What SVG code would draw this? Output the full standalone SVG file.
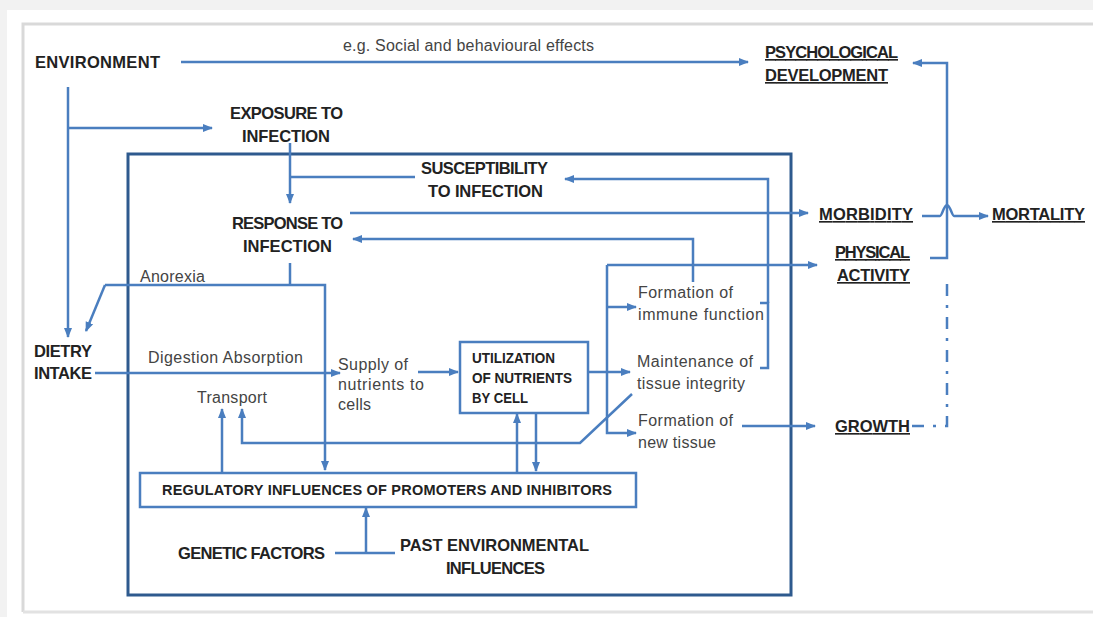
<svg xmlns="http://www.w3.org/2000/svg" width="1093" height="617" viewBox="0 0 1093 617">
<defs>
<marker id="ah" markerUnits="userSpaceOnUse" markerWidth="10" markerHeight="10" viewBox="0 0 10 10" refX="9" refY="5" orient="auto">
<path d="M0,1 L10,5 L0,9 Z" fill="#4a7ebf"/>
</marker>
<style>
.c{fill:none;stroke:#4a7ebf;stroke-width:2.5}
.a{marker-end:url(#ah)}
.b{font-family:"Liberation Sans",Arial,sans-serif;font-weight:bold;font-size:16.5px;fill:#222}
.u{text-decoration:underline}
.r{font-family:"Liberation Sans",Arial,sans-serif;font-size:16px;fill:#444}
.s{font-family:"Liberation Sans",Arial,sans-serif;font-weight:bold;font-size:14.5px;fill:#222}
</style>
</defs>
<rect width="1093" height="617" fill="#f2f2f2"/>
<rect x="7" y="10" width="1086" height="607" fill="#ffffff"/>
<path d="M23 612 V24 H1093" fill="none" stroke="#d9d9d9" stroke-width="3"/>
<path d="M23 612 H1093" fill="none" stroke="#e2e2e2" stroke-width="3"/>
<rect id="mainbox" x="128" y="154" width="663" height="441" fill="none" stroke="#2e5a8e" stroke-width="3"/>

<g id="connectors">
<path class="c a" d="M181 62 H748"/>
<path class="c a" d="M68 87 V337"/>
<path class="c a" d="M68 128 H212"/>
<path class="c a" d="M290 143 V203"/>
<path class="c" d="M415 177 H290"/>
<path class="c a" d="M350 213 H808"/>
<path class="c a" d="M693 282 V239 H353"/>
<path class="c" d="M290 263 V285"/>
<path class="c a" d="M105 285 H325 V470"/>
<path class="c a" d="M105 285 L86 331"/>
<path class="c a" d="M95 373 H340"/>
<path class="c a" d="M418 372 H458"/>
<path class="c a" d="M588 372 H630"/>
<path class="c a" d="M607 265 V433 H636"/>
<path class="c a" d="M607 307 H636"/>
<path class="c a" d="M607 265 H817"/>
<path class="c" d="M760 303 H768 V368 H760"/>
<path class="c a" d="M768 303 V179 H565"/>
<path class="c a" d="M742 426 H815"/>
<path class="c" d="M912 426 H947 V277" stroke-dasharray="12 9 3 9"/>
<path class="c a" d="M930 258 H947 V63 H913"/>
<path class="c a" d="M922 216 H940 C942 216 944 205 947 205 C950 205 952 216 954 216 H988"/>
<path class="c a" d="M632 394 L580 443 H242 V409"/>
<path class="c a" d="M222 472 V409"/>
<path class="c a" d="M517 472 V414"/>
<path class="c a" d="M536 413 V471"/>
<path class="c" d="M335 553 H395"/>
<path class="c a" d="M366 553 V508"/>
</g>

<g id="environment"><text class="b" x="35" y="68" textLength="125">ENVIRONMENT</text></g>
<g id="social-label"><text class="r" x="343" y="51" textLength="251">e.g. Social and behavioural effects</text></g>
<g id="psychological"><text class="b u" x="765" y="58" textLength="133">PSYCHOLOGICAL</text><text class="b u" x="765" y="81" textLength="123">DEVELOPMENT</text></g>
<g id="exposure"><text class="b" x="230" y="119" textLength="113">EXPOSURE TO</text><text class="b" x="242" y="142" textLength="88">INFECTION</text></g>
<g id="susceptibility"><text class="b" x="421" y="174" textLength="127">SUSCEPTIBILITY</text><text class="b" x="428" y="197" textLength="115">TO INFECTION</text></g>
<g id="response"><text class="b" x="232" y="229" textLength="111">RESPONSE TO</text><text class="b" x="243" y="252" textLength="89">INFECTION</text></g>
<g id="morbidity"><text class="b u" x="819" y="220" textLength="94">MORBIDITY</text></g>
<g id="mortality"><text class="b u" x="992" y="220" textLength="93">MORTALITY</text></g>
<g id="physical"><text class="b u" x="835" y="258" textLength="75">PHYSICAL</text><text class="b u" x="837" y="281" textLength="73">ACTIVITY</text></g>
<g id="anorexia"><text class="r" x="140" y="282" textLength="65">Anorexia</text></g>
<g id="immune"><text class="r" x="638" y="298" textLength="95">Formation of</text><text class="r" x="638" y="320" textLength="126">immune function</text></g>
<g id="maintenance"><text class="r" x="637" y="367" textLength="116">Maintenance of</text><text class="r" x="637" y="389" textLength="108">tissue integrity</text></g>
<g id="newtissue"><text class="r" x="638" y="426" textLength="95">Formation of</text><text class="r" x="638" y="448" textLength="78">new tissue</text></g>
<g id="dietry"><text class="b" x="34" y="357" textLength="58">DIETRY</text><text class="b" x="34" y="379" textLength="58">INTAKE</text></g>
<g id="digestion"><text class="r" x="148" y="363" textLength="155">Digestion Absorption</text></g>
<g id="transport"><text class="r" x="197" y="403" textLength="70">Transport</text></g>
<g id="supply"><text class="r" x="338" y="370" textLength="70">Supply of</text><text class="r" x="338" y="390" textLength="86">nutrients to</text><text class="r" x="338" y="410" textLength="33">cells</text></g>
<g id="utilization"><rect x="460" y="342" width="128" height="71" fill="#fff" class="c"/>
<text class="s" x="472" y="363" textLength="83" lengthAdjust="spacingAndGlyphs">UTILIZATION</text>
<text class="s" x="472" y="383" textLength="100" lengthAdjust="spacingAndGlyphs">OF NUTRIENTS</text>
<text class="s" x="472" y="403" textLength="56" lengthAdjust="spacingAndGlyphs">BY CELL</text></g>
<g id="growth"><text class="b u" x="835" y="432" textLength="75">GROWTH</text></g>
<g id="regulatory"><rect x="140" y="473" width="496" height="34" fill="#fff" class="c"/>
<text class="s" x="162" y="495" textLength="450">REGULATORY INFLUENCES OF PROMOTERS AND INHIBITORS</text></g>
<g id="genetic"><text class="b" x="178" y="559" textLength="147">GENETIC FACTORS</text></g>
<g id="past"><text class="b" x="400" y="551" textLength="189">PAST ENVIRONMENTAL</text><text class="b" x="446" y="574" textLength="99">INFLUENCES</text></g>
</svg>
